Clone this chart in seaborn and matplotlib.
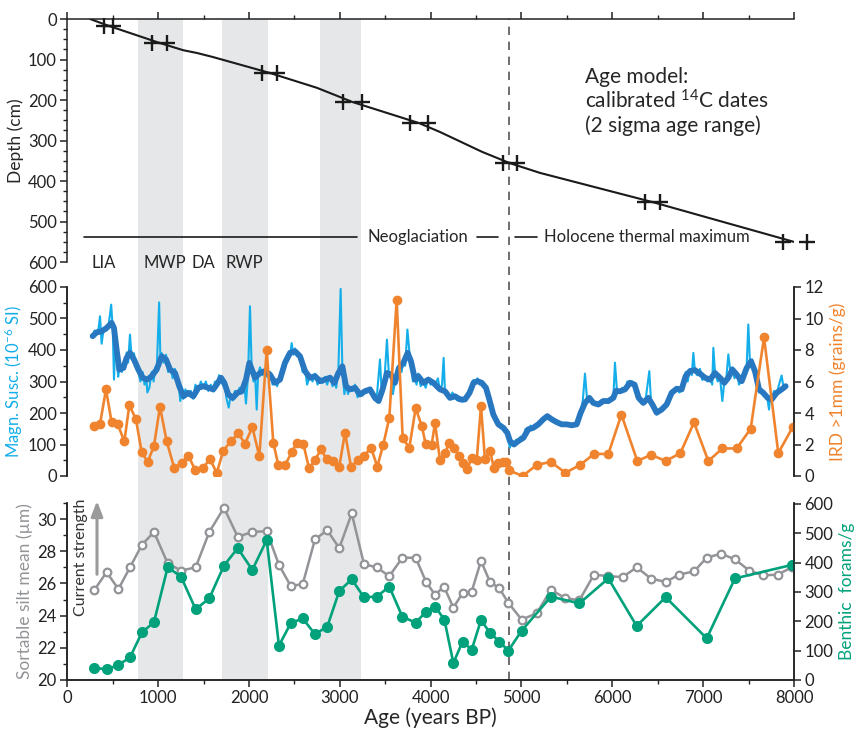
import matplotlib
matplotlib.use("Agg")
import matplotlib.pyplot as plt
from matplotlib.ticker import MultipleLocator
import seaborn as sns

# ---- values ----
# age model: calibrated 14C dates (2 sigma range ends) and interpolated depth curve
date_age_min = [404, 932, 2143, 3035, 3773, 4796, 6359, 7879]
date_age_max = [503, 1097, 2308, 3244, 3971, 4950, 6524, 8143]
date_depth = [17, 59, 133, 205, 257, 356, 452, 551]
model_age = [251, 457, 1015, 1275, 1429, 1605, 2226, 2749, 3140, 3872,
             4103, 4566, 4873, 5204, 6442, 8011]
model_depth = [0, 17, 59, 77, 84, 94, 133, 170, 205, 257,
               279, 328, 356, 380, 452, 551]

# magnetic susceptibility, raw record
msus_raw_age = [279, 300, 323, 345, 360, 378, 400, 433, 455, 483,
                500, 514, 530, 543, 560, 573, 600, 617, 635, 653,
                670, 690, 710, 734, 760, 782, 805, 830, 850, 870,
                881, 903, 929, 950, 970, 984, 1011, 1025, 1039, 1060,
                1087, 1110, 1131, 1160, 1186, 1210, 1233, 1244, 1260, 1277,
                1300, 1332, 1360, 1387, 1410, 1442, 1470, 1497, 1525, 1552,
                1580, 1607, 1625, 1644, 1670, 1692, 1710, 1728, 1750, 1777,
                1800, 1821, 1845, 1871, 1895, 1920, 1945, 1967, 1990, 2011,
                2030, 2050, 2066, 2085, 2100, 2121, 2150, 2176, 2200, 2231,
                2260, 2286, 2310, 2341, 2370, 2396, 2420, 2452, 2470, 2490,
                2507, 2530, 2562, 2590, 2617, 2640, 2672, 2700, 2727, 2755,
                2782, 2810, 2837, 2860, 2892, 2920, 2940, 2960, 2984, 3009,
                3028, 3050, 3068, 3090, 3112, 3140, 3167, 3195, 3222, 3250,
                3277, 3300, 3332, 3360, 3387, 3410, 3442, 3460, 3490, 3519,
                3540, 3563, 3585, 3607, 3630, 3651, 3680, 3699, 3720, 3744,
                3770, 3784, 3805, 3827, 3845, 3864, 3890, 3919, 3945, 3974,
                4000, 4029, 4048, 4080, 4103, 4125, 4143, 4158, 4185, 4213,
                4240, 4268, 4295, 4323, 4350, 4378, 4400, 4428, 4450, 4472,
                4495, 4516, 4540, 4562, 4585, 4609, 4630, 4646, 4668, 4690,
                4715, 4745, 4770, 4800, 4822, 4844, 4860, 4873, 4890, 4917,
                4940, 4965, 4990, 5020, 5045, 5075, 5100, 5130, 5155, 5185,
                5210, 5240, 5262, 5284, 5310, 5332, 5360, 5387, 5415, 5442,
                5470, 5497, 5525, 5553, 5580, 5608, 5630, 5652, 5675, 5699,
                5720, 5747, 5770, 5791, 5820, 5846, 5875, 5901, 5930, 5956,
                5985, 6011, 6029, 6050, 6084, 6110, 6140, 6165, 6195, 6220,
                6245, 6270, 6290, 6315, 6341, 6370, 6407, 6425, 6441, 6465,
                6488, 6515, 6543, 6570, 6598, 6625, 6653, 6680, 6708, 6735,
                6763, 6785, 6807, 6830, 6855, 6875, 6892, 6910, 6935, 6965,
                6990, 7020, 7045, 7075, 7100, 7112, 7130, 7160, 7185, 7211,
                7233, 7255, 7277, 7300, 7321, 7345, 7369, 7395, 7424, 7450,
                7479, 7497, 7515, 7540, 7570, 7595, 7615, 7640, 7662, 7690,
                7710, 7725, 7740, 7754, 7780, 7809, 7830, 7864, 7885, 7908]
msus_raw = [440, 462, 450, 470, 507, 420, 468, 462, 480, 544,
            470, 306, 440, 380, 315, 345, 330, 355, 340, 392,
            360, 449, 370, 390, 340, 330, 300, 330, 290, 310,
            265, 280, 330, 300, 345, 330, 551, 370, 390, 360,
            385, 330, 350, 310, 340, 300, 270, 238, 265, 245,
            275, 255, 270, 245, 290, 270, 300, 280, 300, 270,
            290, 268, 300, 285, 320, 305, 290, 305, 250, 217,
            260, 240, 270, 255, 280, 262, 300, 230, 320, 539,
            340, 300, 330, 211, 320, 345, 320, 340, 315, 330,
            290, 300, 285, 315, 350, 370, 385, 380, 422, 385,
            405, 380, 385, 330, 340, 290, 320, 300, 325, 290,
            310, 295, 315, 290, 318, 285, 300, 280, 335, 594,
            340, 260, 290, 260, 280, 270, 290, 250, 265, 255,
            275, 265, 280, 255, 240, 260, 370, 270, 300, 433,
            320, 330, 260, 300, 340, 350, 330, 365, 350, 465,
            380, 370, 300, 310, 290, 325, 285, 300, 280, 312,
            290, 300, 290, 310, 270, 290, 375, 265, 255, 245,
            265, 250, 240, 250, 235, 248, 255, 270, 290, 305,
            295, 310, 290, 300, 290, 285, 260, 245, 215, 190,
            175, 165, 160, 150, 145, 135, 105, 90, 110, 100,
            115, 110, 125, 120, 150, 145, 160, 150, 165, 160,
            175, 180, 190, 185, 180, 178, 172, 168, 170, 162,
            168, 160, 165, 158, 165, 160, 185, 205, 240, 325,
            250, 245, 235, 230, 225, 230, 240, 235, 240, 232,
            250, 245, 360, 275, 265, 280, 270, 300, 290, 300,
            280, 250, 245, 235, 230, 250, 333, 240, 220, 215,
            195, 205, 215, 220, 230, 255, 270, 275, 280, 265,
            270, 290, 330, 300, 340, 320, 391, 330, 320, 340,
            305, 318, 300, 310, 290, 407, 330, 300, 315, 238,
            300, 310, 386, 330, 345, 310, 330, 290, 305, 335,
            350, 481, 360, 370, 325, 290, 265, 270, 255, 250,
            240, 211, 255, 240, 270, 260, 285, 319, 280, 290]

# magnetic susceptibility, smoothed record
msus_smooth_age = [279, 323, 378, 433, 488, 514, 543, 573, 617, 653,
                   690, 734, 782, 830, 881, 929, 984, 1039, 1087, 1131,
                   1186, 1233, 1277, 1332, 1387, 1442, 1497, 1552, 1607, 1644,
                   1692, 1728, 1772, 1821, 1871, 1920, 1967, 2004, 2066, 2121,
                   2176, 2231, 2286, 2341, 2396, 2452, 2507, 2562, 2617, 2672,
                   2727, 2782, 2837, 2892, 2940, 2984, 3028, 3068, 3112, 3167,
                   3222, 3277, 3332, 3387, 3427, 3471, 3519, 3563, 3607, 3651,
                   3699, 3747, 3784, 3827, 3864, 3919, 3974, 4029, 4103, 4158,
                   4213, 4268, 4323, 4378, 4428, 4472, 4516, 4562, 4609, 4646,
                   4690, 4745, 4800, 4844, 4873, 4917, 4965, 5020, 5075, 5130,
                   5185, 5240, 5284, 5332, 5387, 5442, 5497, 5553, 5608, 5652,
                   5699, 5747, 5791, 5846, 5901, 5956, 6011, 6040, 6084, 6140,
                   6195, 6245, 6290, 6341, 6396, 6441, 6488, 6543, 6598, 6653,
                   6708, 6763, 6807, 6855, 6910, 6965, 7020, 7075, 7130, 7185,
                   7233, 7277, 7321, 7369, 7424, 7479, 7527, 7570, 7615, 7662,
                   7710, 7754, 7809, 7864, 7908]
msus_smooth = [444, 456, 459, 470, 486, 470, 401, 338, 343, 375,
               391, 370, 338, 312, 306, 317, 338, 380, 370, 338,
               327, 285, 253, 264, 253, 280, 285, 280, 275, 290,
               312, 296, 259, 248, 264, 269, 306, 359, 312, 327,
               333, 322, 296, 306, 359, 391, 396, 380, 333, 312,
               317, 301, 306, 312, 296, 327, 348, 285, 275, 280,
               259, 269, 275, 248, 238, 275, 327, 322, 296, 343,
               359, 391, 364, 306, 317, 296, 306, 296, 275, 269,
               248, 253, 243, 243, 264, 296, 301, 296, 280, 243,
               195, 164, 153, 137, 111, 100, 111, 121, 148, 153,
               164, 180, 190, 180, 171, 164, 164, 161, 164, 201,
               232, 248, 232, 227, 238, 238, 248, 270, 269, 275,
               296, 290, 248, 232, 248, 227, 201, 211, 227, 264,
               277, 275, 317, 333, 336, 325, 312, 306, 327, 312,
               296, 312, 338, 322, 301, 343, 364, 333, 275, 264,
               248, 243, 264, 275, 285]

# ice rafted debris > 1 mm (grains/g)
ird_age = [290, 360, 426, 488, 554, 628, 683, 756, 819, 885,
           954, 1020, 1094, 1178, 1259, 1332, 1406, 1490, 1571, 1645,
           1717, 1799, 1883, 1956, 2037, 2114, 2195, 2268, 2323, 2397,
           2470, 2525, 2598, 2661, 2727, 2793, 2855, 2928, 2994, 3057,
           3123, 3197, 3270, 3343, 3413, 3479, 3545, 3626, 3692, 3765,
           3835, 3901, 3945, 4011, 4048, 4103, 4158, 4205, 4257, 4312,
           4359, 4403, 4452, 4507, 4554, 4598, 4653, 4697, 4745, 4793,
           4826, 4866, 5013, 5167, 5323, 5483, 5644, 5798, 5956, 6100,
           6275, 6426, 6587, 6749, 6899, 7057, 7211, 7369, 7523, 7670,
           7827, 7985]
ird = [3.2, 3.3, 5.5, 3.4, 3.3, 2.2, 4.5, 3.6, 1.5, 0.9,
       1.9, 4.4, 2.2, 0.5, 0.85, 1.3, 0.4, 0.5, 1.06, 0.2,
       1.6, 2.2, 2.7, 2.05, 3.1, 1.25, 8.0, 2.1, 0.7, 0.7,
       1.5, 2.1, 2.05, 0.5, 1.0, 1.7, 1.06, 0.95, 0.6, 2.75,
       0.6, 1.0, 1.3, 1.8, 0.6, 2.0, 3.7, 11.2, 2.4, 1.8,
       4.3, 3.2, 2.05, 2.0, 3.35, 1.0, 1.45, 2.1, 1.75, 1.3,
       0.85, 0.45, 1.15, 1.0, 4.45, 1.05, 1.6, 0.5, 0.85, 0.9,
       0.9, 0.35, 0.0, 0.7, 0.9, 0.2, 0.7, 1.4, 1.4, 3.9,
       0.95, 1.35, 0.95, 1.45, 3.4, 0.95, 1.75, 1.75, 3.0, 8.8,
       1.45, 3.1]

# sortable silt mean (um)
silt_age = [298, 433, 563, 690, 822, 954, 1105, 1252, 1413, 1563,
            1725, 1876, 2037, 2195, 2330, 2459, 2591, 2727, 2862, 2994,
            3131, 3266, 3406, 3545, 3688, 3835, 3949, 4048, 4147, 4250,
            4352, 4452, 4554, 4653, 4756, 4855, 5002, 5167, 5325, 5479,
            5637, 5798, 5956, 6114, 6268, 6426, 6587, 6737, 6899, 7039,
            7196, 7350, 7508, 7662, 7820, 7975]
silt = [25.6, 26.7, 25.65, 27.0, 28.4, 29.2, 27.25, 26.8, 27.0, 29.2,
        30.7, 28.9, 29.2, 29.25, 27.15, 25.85, 25.95, 28.75, 29.3, 28.2,
        30.35, 27.2, 27.0, 26.45, 27.6, 27.6, 26.1, 25.3, 25.8, 24.5,
        25.4, 25.5, 27.4, 26.1, 25.7, 24.8, 23.75, 24.15, 25.6, 25.1,
        24.95, 26.55, 26.45, 26.4, 27.0, 26.3, 26.1, 26.55, 26.75, 27.6,
        27.85, 27.5, 26.8, 26.5, 26.55, 27.0]

# benthic foraminifera per gram
forams_age = [298, 433, 563, 690, 822, 954, 1105, 1252, 1413, 1563,
              1725, 1876, 2037, 2195, 2330, 2459, 2591, 2727, 2862, 2994,
              3131, 3266, 3406, 3545, 3688, 3835, 3949, 4048, 4151, 4250,
              4352, 4452, 4554, 4653, 4756, 4855, 5002, 5325, 5637, 5956,
              6268, 6587, 7039, 7350, 7975]
forams = [42, 36, 51, 77, 162, 197, 384, 352, 241, 278,
          390, 449, 375, 477, 117, 193, 210, 156, 182, 303,
          343, 282, 284, 318, 216, 195, 233, 250, 206, 58,
          131, 103, 204, 161, 131, 100, 168, 284, 261, 346,
          184, 282, 142, 346, 392]

# climate periods (grey bands) and boundaries
bands = [(780, 1275), (1700, 2210), (2780, 3230)]
period_labels = ["LIA", "MWP", "DA", "RWP"]
period_x = [262, 835, 1363, 1737]
htm_start = 4860

# colours
c_raw = "#14aeea"
c_smooth = "#2777c1"
c_ird = "#f0842e"
c_silt = "#929497"
c_forams = "#00a17b"
c_band = "#e6e7e8"

sns.set_style("ticks")
plt.rcParams["font.family"] = ["Lato", "DejaVu Sans"]
plt.rcParams["mathtext.fontset"] = "custom"
plt.rcParams["mathtext.rm"] = "Lato"
plt.rcParams["mathtext.it"] = "Lato:italic"
plt.rcParams["axes.linewidth"] = 1.1
plt.rcParams["axes.edgecolor"] = "#222222"
for k in ("xtick", "ytick"):
    plt.rcParams[k + ".labelsize"] = 12
    plt.rcParams[k + ".color"] = "#222222"
    plt.rcParams[k + ".major.size"] = 5
    plt.rcParams[k + ".minor.size"] = 3
    plt.rcParams[k + ".major.width"] = 1.1
    plt.rcParams[k + ".minor.width"] = 1.0
    plt.rcParams[k + ".major.pad"] = 2.5

fig = plt.figure(figsize=(8.59, 7.34), dpi=100)
X0, X1 = 67.3, 794.0


def rect(top_px, bot_px):
    return [X0 / 859, 1 - bot_px / 734, (X1 - X0) / 859, (bot_px - top_px) / 734]


# background: shaded periods and the dashed boundary across all panels
ax_bg = fig.add_axes(rect(19, 680))
ax_bg.set_xlim(0, 8000)
ax_bg.axis("off")
for a0, a1 in bands:
    ax_bg.axvspan(a0, a1, color=c_band, lw=0)
ax_bg.axvline(htm_start, color="#555555", lw=1.2, dashes=(5, 4))

# ---- top: age model ----
ax_top = fig.add_axes(rect(19, 262), facecolor="none")
sns.lineplot(x=model_age, y=model_depth, ax=ax_top, color="#1a1a1a", lw=1.5,
             estimator=None, sort=False)
for ages in (date_age_min, date_age_max):
    sns.scatterplot(x=ages, y=date_depth, ax=ax_top, marker="+", s=130,
                    color="#1a1a1a", linewidth=1.7, clip_on=False, zorder=4)
ax_top.set_xlim(0, 8000)
ax_top.set_ylim(600, 0)
ax_top.spines["bottom"].set_visible(False)
ax_top.spines["right"].set_visible(False)
ax_top.xaxis.tick_top()
ax_top.xaxis.set_major_locator(MultipleLocator(1000))
ax_top.xaxis.set_minor_locator(MultipleLocator(500))
ax_top.tick_params(axis="x", which="both", labeltop=False, labelbottom=False)
ax_top.yaxis.set_major_locator(MultipleLocator(100))
ax_top.yaxis.set_minor_locator(MultipleLocator(25))
ax_top.set_ylabel("Depth (cm)", fontsize=12.5, labelpad=3)
ax_top.set_xlabel("")

neo_y = 538
ax_top.plot([185, 3190], [neo_y, neo_y], color="#1a1a1a", lw=1.2)
ax_top.text(3310, neo_y, "Neoglaciation", va="center", fontsize=12)
ax_top.plot([4510, 4745], [neo_y, neo_y], color="#1a1a1a", lw=1.2)
ax_top.plot([4930, 5170], [neo_y, neo_y], color="#1a1a1a", lw=1.2)
ax_top.text(5247, neo_y, "Holocene thermal maximum", va="center", fontsize=12)
for lab, x in zip(period_labels, period_x):
    ax_top.text(x, 603, lab, va="center", ha="left", fontsize=12)
ax_top.text(5700, 118, "Age model:\ncalibrated $^{14}$C dates\n(2 sigma age range)",
            va="top", ha="left", fontsize=15, linespacing=1.15)

# ---- middle: magnetic susceptibility and IRD ----
ax_mid = fig.add_axes(rect(287, 476), facecolor="none")
sns.lineplot(x=msus_raw_age, y=msus_raw, ax=ax_mid, color=c_raw, lw=1.5,
             estimator=None, sort=False)
sns.lineplot(x=msus_smooth_age, y=msus_smooth, ax=ax_mid, color=c_smooth, lw=4.2,
             estimator=None, sort=False)
ax_mid.set_xlim(0, 8000)
ax_mid.set_ylim(0, 600)
ax_mid.yaxis.set_major_locator(MultipleLocator(100))
ax_mid.yaxis.set_minor_locator(MultipleLocator(50))
ax_mid.tick_params(axis="x", which="both", bottom=False, top=False, labelbottom=False)
ax_mid.set_ylabel("Magn. Susc. (10$^{-6}$ SI)", color=c_raw, fontsize=12, labelpad=2)
ax_mid.set_xlabel("")

ax_ird = ax_mid.twinx()
sns.lineplot(x=ird_age, y=ird, ax=ax_ird, color=c_ird, lw=1.9, marker="o",
             markersize=7, markeredgecolor=c_ird, markeredgewidth=0,
             estimator=None, sort=False)
ax_ird.set_ylim(0, 12)
ax_ird.yaxis.set_major_locator(MultipleLocator(2))
ax_ird.set_ylabel("IRD >1mm (grains/g)", color=c_ird, fontsize=12.5)
for a in (ax_mid, ax_ird):
    a.spines["top"].set_visible(False)
    a.spines["bottom"].set_visible(False)

# ---- bottom: sortable silt and benthic forams ----
ax_bot = fig.add_axes(rect(503, 680), facecolor="none")
sns.lineplot(x=silt_age, y=silt, ax=ax_bot, color=c_silt, lw=1.8, marker="o",
             markersize=5.5, markerfacecolor="white", markeredgecolor=c_silt,
             markeredgewidth=1.6, estimator=None, sort=False)
ax_bot.set_xlim(0, 8000)
ax_bot.set_ylim(20, 31)
ax_bot.xaxis.set_major_locator(MultipleLocator(1000))
ax_bot.xaxis.set_minor_locator(MultipleLocator(500))
ax_bot.yaxis.set_major_locator(MultipleLocator(2))
ax_bot.yaxis.set_minor_locator(MultipleLocator(1))
ax_bot.set_ylabel("Sortable silt mean (\u00b5m)", color=c_silt, fontsize=12.5, labelpad=3)
ax_bot.set_xlabel("Age (years BP)", fontsize=15, labelpad=1)

ax_ben = ax_bot.twinx()
sns.lineplot(x=forams_age, y=forams, ax=ax_ben, color=c_forams, lw=1.9, marker="o",
             markersize=8, markeredgecolor=c_forams, markeredgewidth=0,
             estimator=None, sort=False)
ax_ben.set_ylim(0, 603)
ax_ben.yaxis.set_major_locator(MultipleLocator(100))
ax_ben.set_ylabel("Benthic  forams/g", color=c_forams, fontsize=12.5)
for a in (ax_bot, ax_ben):
    a.spines["top"].set_visible(False)

ax_bot.annotate("", xy=(327, 31.3), xytext=(327, 26.4), xycoords="data",
                annotation_clip=False,
                arrowprops=dict(arrowstyle="-|>,head_length=0.9,head_width=0.35",
                                color="#9a9a9a", lw=2.2))
ax_bot.text(150, 27.6, "Current strength", rotation=90, va="center", ha="center",
            fontsize=11.5, color="#333333")

fig.savefig("out.png", dpi=100)
